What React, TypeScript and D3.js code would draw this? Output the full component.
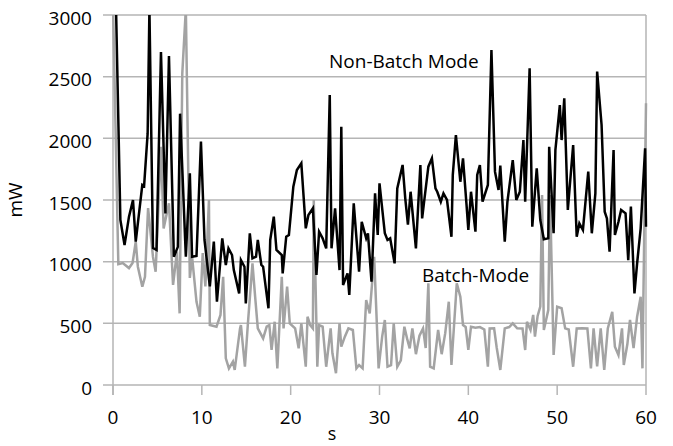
import React from "react";
import * as d3 from "d3";

const xTicks = [0, 10, 20, 30, 40, 50, 60];
const yTicks = [0, 500, 1000, 1500, 2000, 2500, 3000];

const nonBatchTime = [
  0.3, 0.83, 1.3, 1.8, 2.25, 2.56, 3.3, 3.5, 3.9, 4.1, 4.5, 4.9, 5.4, 5.9, 6.3, 6.85, 7.3, 7.55, 8.2, 8.65,
  8.9, 9.4, 9.9, 10.3, 10.9, 11.35, 11.7, 12.3, 12.7, 13.0, 13.4, 13.6, 14.2, 14.4, 14.8, 14.95, 15.4, 15.7, 16.1, 16.3,
  16.7, 16.9, 17.5, 17.7, 18.1, 18.4, 19.0, 19.1, 19.5, 19.8, 20.3, 20.7, 21.2, 21.7, 22.0, 22.5, 22.9, 23.2, 23.6, 24.0,
  24.4, 24.6, 25.0, 25.5, 25.7, 25.9, 26.4, 26.6, 27.1, 27.7, 28.0, 28.5, 28.7, 29.1, 29.5, 29.8, 30.0, 30.6, 30.9, 31.2,
  31.7, 32.0, 32.6, 32.9, 33.2, 33.5, 34.1, 34.6, 34.8, 35.0, 35.5, 35.9, 36.3, 36.5, 36.9, 37.2, 37.6, 38.1, 38.25, 38.6,
  39.1, 39.4, 39.8, 40.0, 40.3, 40.8, 41.0, 41.3, 41.6, 42.2, 42.6, 43.0, 43.4, 43.6, 44.1, 44.4, 45.0, 45.4, 45.8, 46.2,
  46.4, 46.9, 47.2, 47.7, 48.1, 48.5, 49.0, 49.1, 49.6, 49.8, 50.3, 50.5, 50.8, 51.2, 51.8, 52.2, 52.5, 52.9, 53.5, 53.9,
  54.3, 54.5, 55.0, 55.35, 55.6, 55.9, 56.35, 56.5, 56.9, 57.2, 57.7, 58.0, 58.3, 58.7, 59.0, 59.4, 59.9, 60.0,
];
const nonBatchPower = [
  3200, 1338, 1135, 1365, 1500, 1162, 1622, 1613, 2040, 3050, 1110, 1095, 2700, 1390, 2668, 1040, 1120, 2200, 1040, 1716,
  1040, 1046, 1973, 1176, 800, 1162, 675, 1189, 973, 1108, 1054, 932, 743, 1013, 959, 662, 1230, 1027, 1040, 1176,
  973, 959, 622, 1176, 1365, 1095, 1054, 905, 1202, 1216, 1608, 1743, 1797, 1270, 1378, 1432, 892, 1243, 1189, 1108,
  2351, 1108, 1432, 932, 2094, 811, 905, 730, 1473, 919, 1324, 1189, 1230, 838, 1554, 1216, 1635, 1230, 1176, 1189,
  986, 1594, 1784, 1513, 1300, 1567, 1108, 1784, 1351, 1473, 1770, 1838, 1594, 1567, 1486, 1554, 1500, 1202, 1703, 2027,
  1648, 1838, 1459, 1257, 1567, 1243, 1703, 1784, 1486, 1622, 2716, 1730, 1581, 1780, 1162, 1486, 1824, 1500, 1567, 1986,
  1486, 2568, 1284, 1757, 1338, 1181, 1189, 1932, 1230, 1905, 2270, 1986, 2324, 1419, 1946, 1202, 1311, 1257, 1730, 1230,
  1554, 2541, 2108, 1405, 1351, 1081, 1905, 1216, 1324, 1419, 1392, 1013, 1446, 743, 986, 1270, 1919, 1284,
];

const batchTime = [
  0.0, 0.6, 1.1, 1.8, 2.2, 2.56, 2.8, 3.3, 3.6, 3.95, 4.5, 4.8, 5.4, 5.7, 6.3, 6.76, 7.2, 7.5, 7.8, 8.2,
  8.65, 8.9, 9.4, 9.77, 10.1, 10.4, 10.8, 10.9, 11.65, 12.1, 12.4, 12.7, 13.05, 13.5, 13.7, 14.3, 14.4, 14.85, 15.2, 15.7,
  16.0, 16.3, 16.9, 17.3, 17.6, 17.85, 18.2, 18.5, 19.0, 19.2, 19.6, 19.9, 20.5, 20.9, 21.2, 21.7, 21.9, 22.2, 22.5, 22.6,
  23.0, 23.2, 23.6, 24.0, 24.5, 24.7, 25.1, 25.5, 25.7, 26.1, 26.5, 27.0, 27.4, 27.7, 28.1, 28.5, 28.9, 29.4, 29.9, 30.3,
  30.6, 30.9, 31.3, 31.6, 32.0, 32.4, 32.8, 33.1, 33.4, 33.7, 34.1, 34.5, 34.9, 35.2, 35.5, 35.7, 36.1, 36.6, 37.0, 37.4,
  37.8, 38.1, 38.7, 39.1, 39.4, 39.7, 40.0, 40.3, 40.8, 41.3, 41.8, 42.2, 42.4, 42.9, 43.2, 43.6, 44.1, 44.6, 45.0, 45.5,
  46.1, 46.4, 46.6, 47.0, 47.3, 47.5, 47.8, 48.1, 48.3, 48.5, 49.0, 49.2, 49.6, 50.0, 50.5, 50.9, 51.3, 51.8, 52.2, 52.8,
  53.4, 53.8, 54.1, 54.5, 54.9, 55.3, 55.7, 56.2, 56.5, 56.9, 57.3, 57.5, 57.9, 58.2, 58.6, 59.0, 59.4, 59.6, 60.0,
];
const batchPower = [
  3100, 980, 989, 948, 989, 1162, 959, 797, 878, 1435, 1040, 919, 1932, 1270, 1473, 811, 1081, 581, 2527, 3050,
  868, 1040, 675, 554, 1070, 800, 1500, 486, 473, 568, 878, 216, 135, 189, 122, 459, 486, 148, 513, 986,
  716, 459, 378, 473, 486, 284, 513, 135, 878, 459, 797, 500, 459, 297, 500, 148, 554, 486, 459, 1500,
  148, 486, 473, 148, 459, 257, 95, 500, 311, 392, 459, 446, 135, 162, 135, 689, 581, 1040, 135, 392,
  527, 148, 160, 500, 148, 200, 473, 378, 297, 459, 250, 400, 459, 300, 824, 148, 135, 446, 250, 420,
  675, 162, 824, 716, 486, 470, 284, 473, 465, 470, 450, 148, 459, 460, 300, 122, 459, 470, 500, 460,
  459, 284, 513, 446, 568, 392, 560, 635, 1540, 446, 608, 1540, 243, 635, 622, 459, 450, 148, 459, 460,
  459, 135, 459, 150, 459, 122, 459, 594, 311, 243, 459, 162, 330, 527, 300, 554, 716, 135, 2284,
];

const W = 673;
const H = 446;
const left = 113;
const right = 646;
const top = 15;
const bottom = 385;
const FONT = "'Open Sans', 'DejaVu Sans', sans-serif";

export default function App() {
  const x = d3.scaleLinear().domain([0, 60]).range([left, right]);
  const y = d3.scaleLinear().domain([0, 3000]).range([bottom, top]);

  const nonBatch = nonBatchTime.map((t, i) => [t, nonBatchPower[i]] as [number, number]);
  const batch = batchTime.map((t, i) => [t, batchPower[i]] as [number, number]);

  const line = d3
    .line<[number, number]>()
    .x((d) => x(d[0]))
    .y((d) => y(d[1]));

  const grid = "#b5b5b5";

  return (
    <svg
      width={W}
      height={H}
      viewBox={`0 0 ${W} ${H}`}
      style={{ position: "absolute", left: 0, top: 0, background: "#fff" }}
    >
      <defs>
        <clipPath id="plotClip">
          <rect x={left - 2} y={top} width={right - left + 4} height={bottom - top + 2} />
        </clipPath>
      </defs>
      <rect x={0} y={0} width={W} height={H} fill="#fff" />

      {yTicks.map((v) => (
        <g key={"y" + v}>
          <line x1={left - 10} x2={right} y1={y(v)} y2={y(v)} stroke={grid} strokeWidth={1.5} />
          <text
            x={92}
            y={y(v) + 9.5}
            textAnchor="end"
            fontFamily={FONT}
            fontSize={19}
            fill="#000"
          >
            {v}
          </text>
        </g>
      ))}

      <line x1={left} x2={left} y1={top} y2={bottom + 10} stroke={grid} strokeWidth={1.5} />
      <line x1={right} x2={right} y1={top} y2={bottom} stroke={grid} strokeWidth={1.5} />

      {xTicks.map((v) => (
        <g key={"x" + v}>
          <line x1={x(v)} x2={x(v)} y1={bottom} y2={bottom + 10} stroke={grid} strokeWidth={1.5} />
          <text x={x(v)} y={424} textAnchor="middle" fontFamily={FONT} fontSize={19} fill="#000">
            {v}
          </text>
        </g>
      ))}

      <g clipPath="url(#plotClip)">
        <path d={line(batch) || ""} fill="none" stroke="#a3a3a3" strokeWidth={2.5} strokeLinejoin="miter" strokeMiterlimit={4} />
        <path d={line(nonBatch) || ""} fill="none" stroke="#000" strokeWidth={2.5} strokeLinejoin="miter" strokeMiterlimit={4} />
      </g>

      <text x={329} y={68} fontFamily={FONT} fontSize={19} fill="#000">
        Non-Batch Mode
      </text>
      <text x={422} y={281.5} fontFamily={FONT} fontSize={19} fill="#000">
        Batch-Mode
      </text>

      <text x={332} y={440} textAnchor="middle" fontFamily={FONT} fontSize={18} fill="#000">
        s
      </text>
      <text
        transform="translate(22,200) rotate(-90)"
        textAnchor="middle"
        fontFamily={FONT}
        fontSize={19}
        fill="#000"
      >
        mW
      </text>
    </svg>
  );
}
